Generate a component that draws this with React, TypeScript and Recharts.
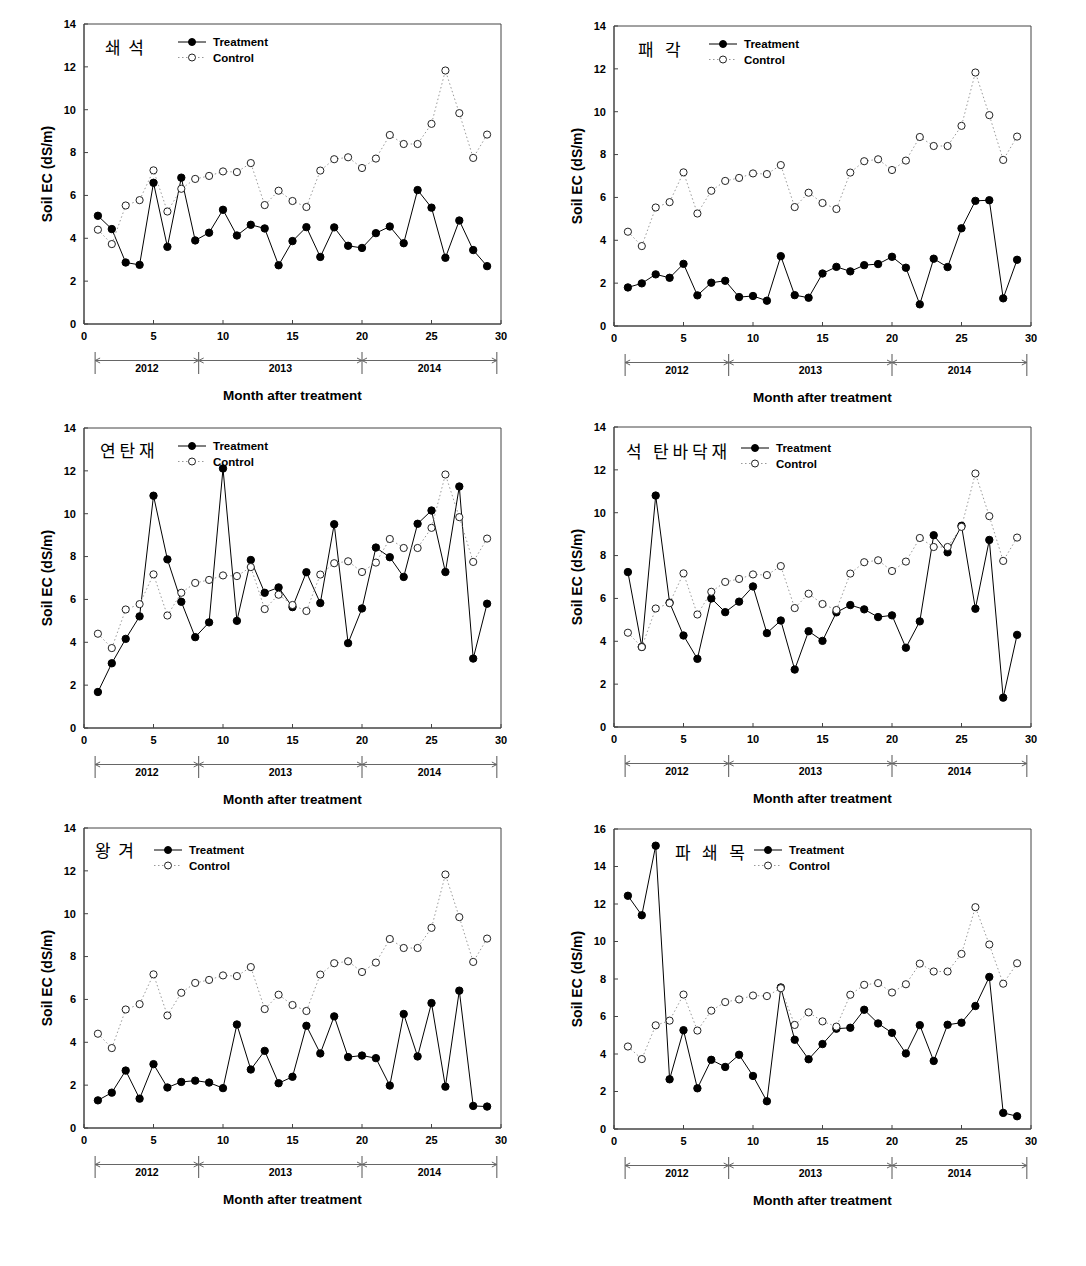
import { LineChart, Line, XAxis, YAxis, ReferenceArea, Legend } from 'recharts';

// month after treatment
const months = [1, 2, 3, 4, 5, 6, 7, 8, 9, 10, 11, 12, 13, 14, 15, 16, 17, 18, 19, 20, 21, 22, 23, 24, 25, 26, 27, 28, 29];

// control is the same in every panel
const control = [4.4, 3.73, 5.53, 5.78, 7.17, 5.25, 6.31, 6.77, 6.91, 7.12, 7.09, 7.51, 5.55, 6.22, 5.74, 5.46, 7.16, 7.69, 7.78, 7.28, 7.72, 8.82, 8.4, 8.4, 9.34, 11.83, 9.84, 7.75, 8.84];

const shwaeseok = [5.05, 4.43, 2.87, 2.76, 6.59, 3.6, 6.83, 3.9, 4.26, 5.33, 4.13, 4.63, 4.46, 2.74, 3.87, 4.52, 3.13, 4.51, 3.65, 3.55, 4.24, 4.55, 3.77, 6.25, 5.43, 3.09, 4.83, 3.45, 2.7];
const paegak = [1.8, 1.99, 2.41, 2.25, 2.9, 1.43, 2.02, 2.11, 1.35, 1.4, 1.18, 3.26, 1.44, 1.32, 2.45, 2.76, 2.55, 2.84, 2.89, 3.23, 2.72, 1.01, 3.14, 2.75, 4.56, 5.84, 5.87, 1.29, 3.09];
const yeontanjae = [1.68, 3.02, 4.16, 5.21, 10.84, 7.87, 5.89, 4.24, 4.93, 12.11, 5.0, 7.84, 6.31, 6.56, 5.64, 7.27, 5.83, 9.51, 3.96, 5.58, 8.42, 7.97, 7.05, 9.53, 10.15, 7.28, 11.27, 3.24, 5.8];
const seoktan = [7.23, 3.74, 10.8, 5.8, 4.27, 3.18, 6.0, 5.36, 5.85, 6.56, 4.38, 4.97, 2.68, 4.47, 4.02, 5.35, 5.69, 5.49, 5.13, 5.21, 3.7, 4.93, 8.95, 8.15, 9.39, 5.52, 8.73, 1.37, 4.3];
const wanggyeo = [1.29, 1.65, 2.68, 1.37, 2.98, 1.89, 2.15, 2.21, 2.12, 1.86, 4.83, 2.73, 3.6, 2.09, 2.39, 4.77, 3.48, 5.21, 3.31, 3.38, 3.26, 1.98, 5.32, 3.34, 5.83, 1.93, 6.41, 1.03, 1.0];
const pasoemok = [12.44, 11.4, 15.11, 2.65, 5.27, 2.17, 3.69, 3.31, 3.96, 2.83, 1.48, 7.55, 4.76, 3.72, 4.53, 5.35, 5.4, 6.36, 5.63, 5.13, 4.03, 5.54, 3.63, 5.56, 5.67, 6.56, 8.11, 0.86, 0.68];

const xTicks = [0, 5, 10, 15, 20, 25, 30];
const yTicks14 = [0, 2, 4, 6, 8, 10, 12, 14];
const yTicks16 = [0, 2, 4, 6, 8, 10, 12, 14, 16];

// year spans along the month axis
const yearBounds = [0.8, 8.25, 20, 29.7];
const yearLabels = ['2012', '2013', '2014'];

const legendOrder = ['treatment', 'control'];

const FONT = '"Liberation Sans", Arial, sans-serif';
const KFONT = '"Noto Sans CJK KR", sans-serif';

const YW = 64;
const MT = 10;
const PW = 417;
const PH = 300;
const CW = YW + PW + 10;
const CH = 400;

const sx = (v: number) => YW + (v / 30) * PW;

function LegendBox(props: any) {
  const items = [...(props.payload || [])].sort(
    (a: any, b: any) => legendOrder.indexOf(a.dataKey) - legendOrder.indexOf(b.dataKey)
  );
  return (
    <svg width={130} height={34} style={{ display: 'block', overflow: 'visible' }}>
      {items.map((it: any, i: number) => {
        const y = 8 + i * 15.5;
        const isCtrl = it.dataKey === 'control';
        return (
          <g key={it.value}>
            <line x1={0} x2={28} y1={y} y2={y} stroke={isCtrl ? '#999' : '#000'} strokeWidth={1} strokeDasharray={isCtrl ? '1.5 2.5' : undefined} />
            <circle cx={14} cy={y} r={3.5} fill={isCtrl ? '#fff' : '#000'} stroke={isCtrl ? '#222' : '#000'} />
            <text x={35} y={y} dominantBaseline="central" fontFamily={FONT} fontWeight="bold" fontSize={11.5} fill="#000">
              {it.value}
            </text>
          </g>
        );
      })}
    </svg>
  );
}

type PanelProps = {
  title: string;
  treatment: number[];
  yMax: number;
  yTicks: number[];
  plotLeft: number;
  plotTop: number;
  legX: number;
  legY: number;
  titleX: number;
  titleY: number;
};

function Panel({ title, treatment, yMax, yTicks, plotLeft, plotTop, legX, legY, titleX, titleY }: PanelProps) {
  const data = months.map((m, i) => ({ month: m, treatment: treatment[i], control: control[i] }));
  const base = MT + PH;
  const lineY = base + 36.5;
  return (
    <div style={{ position: 'absolute', left: plotLeft - YW - 8, top: plotTop - MT - 8, width: CW, height: CH }}>
      <LineChart width={CW} height={CH} data={data} margin={{ top: MT, right: 10, bottom: 70, left: 0 }}>
        <XAxis
          dataKey="month"
          type="number"
          domain={[0, 30]}
          ticks={xTicks}
          interval={0}
          height={20}
          tickSize={-4}
          tickMargin={12}
          axisLine={{ stroke: '#444' }}
          tickLine={{ stroke: '#444' }}
          tick={{ fill: '#000', fontSize: 11, fontWeight: 'bold', fontFamily: FONT }}
        />
        <YAxis
          type="number"
          domain={[0, yMax]}
          ticks={yTicks}
          interval={0}
          width={YW}
          tickSize={-4}
          tickMargin={12}
          axisLine={{ stroke: '#444' }}
          tickLine={{ stroke: '#444' }}
          tick={{ fill: '#000', fontSize: 11, fontWeight: 'bold', fontFamily: FONT }}
          label={{
            value: 'Soil EC (dS/m)',
            angle: -90,
            position: 'center',
            dx: -5,
            style: { fontFamily: FONT, fontWeight: 'bold', fontSize: 14, fill: '#000' },
          }}
        />
        <ReferenceArea x1={0} x2={30} y1={0} y2={yMax} fill="none" stroke="#444" strokeWidth={1} />
        <Line
          type="linear"
          dataKey="treatment"
          name="Treatment"
          stroke="#000"
          strokeWidth={1}
          dot={{ r: 3.7, fill: '#000', stroke: '#000', strokeWidth: 1 }}
          activeDot={false}
          isAnimationActive={false}
        />
        <Line
          type="linear"
          dataKey="control"
          name="Control"
          stroke="#999"
          strokeWidth={1}
          strokeDasharray="1.5 2.5"
          dot={{ r: 3.6, fill: '#fff', stroke: '#222', strokeWidth: 1, strokeDasharray: '' }}
          activeDot={false}
          isAnimationActive={false}
        />
        <Legend
          layout="vertical"
          align="center"
          verticalAlign="middle"
          wrapperStyle={{ left: YW + legX, top: MT + legY - 8, width: 130, height: 34 }}
          content={(p: any) => <LegendBox payload={p.payload} />}
        />
      </LineChart>
      <svg width={CW} height={CH} style={{ position: 'absolute', left: 0, top: 0, pointerEvents: 'none' }}>
        <text x={YW + titleX} y={MT + titleY} dominantBaseline="central" fontFamily={KFONT} fontSize={17} fill="#000" style={{ whiteSpace: 'pre' }}>
          {title}
        </text>
        {yearBounds.map((b, i) => (
          <line key={'v' + i} x1={sx(b)} x2={sx(b)} y1={base + 28} y2={base + 50} stroke="#555" strokeWidth={1} />
        ))}
        {yearLabels.map((lab, i) => {
          const a = sx(yearBounds[i]);
          const z = sx(yearBounds[i + 1]);
          return (
            <g key={lab}>
              <line x1={a} x2={z} y1={lineY} y2={lineY} stroke="#666" strokeWidth={1} />
              <path d={`M${a + 5},${lineY - 2.5} L${a},${lineY} L${a + 5},${lineY + 2.5}`} fill="none" stroke="#666" />
              <path d={`M${z - 5},${lineY - 2.5} L${z},${lineY} L${z - 5},${lineY + 2.5}`} fill="none" stroke="#666" />
              <text x={(a + z) / 2} y={base + 44} textAnchor="middle" dominantBaseline="central" fontFamily={FONT} fontWeight="bold" fontSize={10.5} fill="#000">
                {lab}
              </text>
            </g>
          );
        })}
        <text x={YW + PW / 2} y={base + 71.5} textAnchor="middle" dominantBaseline="central" fontFamily={FONT} fontWeight="bold" fontSize={13.5} fill="#000">
          Month after treatment
        </text>
      </svg>
    </div>
  );
}

export default function App() {
  return (
    <div style={{ position: 'relative', width: 1070, height: 1250, background: '#fff' }}>
      <Panel title="쇄  석" treatment={shwaeseok} yMax={14} yTicks={yTicks14} plotLeft={84} plotTop={24} legX={94} legY={18} titleX={21} titleY={22} />
      <Panel title="패   각" treatment={paegak} yMax={14} yTicks={yTicks14} plotLeft={614} plotTop={26} legX={95} legY={18} titleX={24} titleY={22} />
      <Panel title="연 탄 재" treatment={yeontanjae} yMax={14} yTicks={yTicks14} plotLeft={84} plotTop={428} legX={94} legY={18} titleX={16} titleY={21} />
      <Panel title="석   탄 바 닥 재" treatment={seoktan} yMax={14} yTicks={yTicks14} plotLeft={614} plotTop={427} legX={127} legY={21} titleX={12} titleY={23} />
      <Panel title="왕  겨" treatment={wanggyeo} yMax={14} yTicks={yTicks14} plotLeft={84} plotTop={828} legX={70} legY={22} titleX={11} titleY={21} />
      <Panel title="파   쇄   목" treatment={pasoemok} yMax={16} yTicks={yTicks16} plotLeft={614} plotTop={829} legX={140} legY={21} titleX={61} titleY={22} />
    </div>
  );
}
